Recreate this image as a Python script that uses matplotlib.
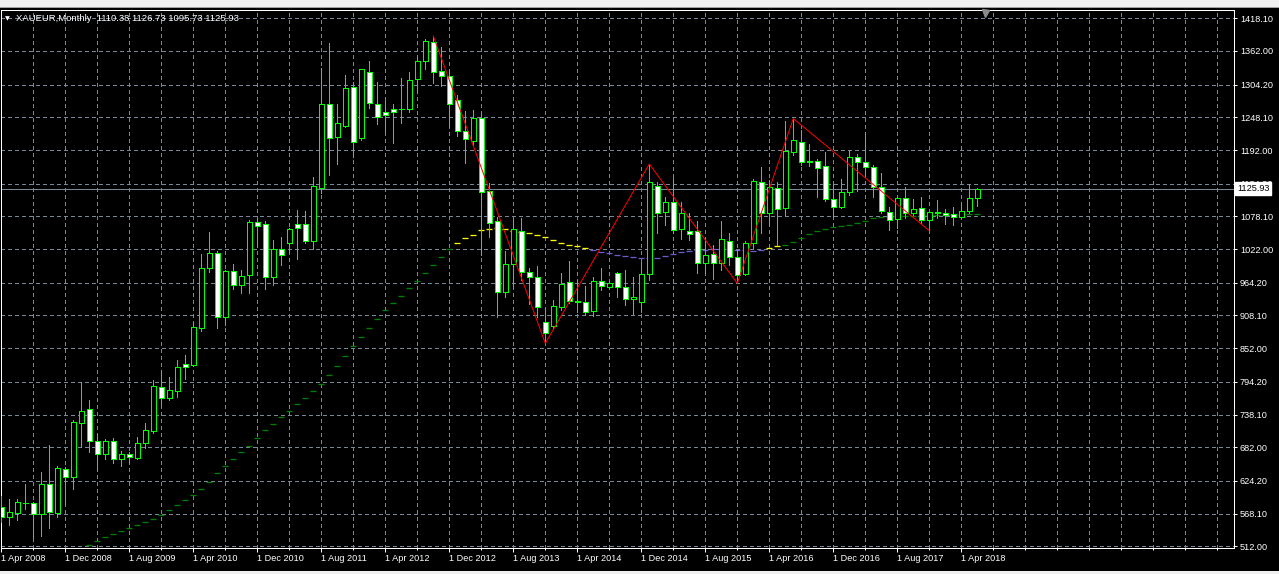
import matplotlib
matplotlib.use("Agg")
import matplotlib.pyplot as plt
from matplotlib.patches import Rectangle
from matplotlib.transforms import blended_transform_factory
import numpy as np

# ---------------- data ----------------
symbol_title = "XAUEUR,Monthly  1110.38 1126.73 1095.73 1125.93"

opens = [580.0, 561.8, 569.7, 585.8, 585.8, 566.9, 618.4, 568.6, 644.1, 631.4,
         724.1, 747.1, 692.7, 670.9, 692.7, 661.3, 669.9, 664.0, 688.7, 710.4,
         786.0, 766.0, 779.0, 824.3, 823.1, 886.1, 989.0, 1014.8, 905.0, 983.9,
         959.9, 977.0, 1068.0, 1064.6, 973.6, 1021.7, 1032.0, 1064.6, 1064.6, 1036.4,
         1127.4, 1271.6, 1213.8, 1234.0, 1299.6, 1212.1, 1325.3, 1271.6, 1256.7, 1262.7,
         1263.0, 1262.0, 1313.4, 1345.3, 1376.9, 1327.6, 1319.5, 1278.5, 1224.6, 1208.0,
         1247.5, 1121.7, 1070.0, 949.0, 996.0, 1053.6, 982.2, 973.6, 896.4, 890.5,
         922.1, 966.0, 932.5, 931.8, 916.3, 967.8, 957.5, 980.5, 956.4, 935.9,
         931.8, 978.8, 1130.8, 1085.0, 1102.3, 1056.0, 1053.0, 1053.0, 997.6, 1013.1,
         997.6, 1035.9, 1008.0, 979.0, 1032.0, 1137.7, 1083.4, 1126.3, 1092.0, 1189.1,
         1205.3, 1172.7, 1173.2, 1164.6, 1107.5, 1094.8, 1120.3, 1180.5, 1170.9, 1163.4,
         1128.0, 1086.2, 1073.2, 1109.2, 1083.4, 1092.0, 1072.0, 1084.0, 1083.4, 1081.7,
         1076.6, 1088.0, 1110.38]
highs = [598.3, 593.2, 593.2, 618.9, 588.5, 639.5, 685.3, 649.8, 647.6, 728.7,
         794.5, 763.0, 704.2, 696.1, 697.8, 676.0, 674.3, 700.0, 723.1, 797.4,
         814.5, 803.0, 831.7, 840.3, 896.4, 1013.6, 1050.8, 1018.7, 986.0, 996.4,
         986.0, 1072.0, 1074.8, 1070.2, 1037.6, 1042.8, 1058.2, 1089.1, 1087.4, 1145.2,
         1333.3, 1375.1, 1271.6, 1321.4, 1309.3, 1331.0, 1344.8, 1309.3, 1278.5, 1271.6,
         1315.0, 1325.3, 1350.0, 1382.5, 1387.5, 1368.3, 1329.0, 1286.8, 1259.0, 1260.7,
         1255.0, 1135.0, 1077.6, 1018.7, 1073.6, 1074.8, 988.8, 993.0, 920.4, 934.6,
         980.5, 1001.6, 969.0, 958.7, 974.6, 989.0, 967.8, 983.2, 986.1, 974.1,
         999.3, 1168.0, 1136.6, 1111.0, 1143.5, 1102.3, 1083.4, 1070.2, 1040.5, 1029.0,
         1070.2, 1049.1, 1020.5, 1036.4, 1141.8, 1163.4, 1140.6, 1136.6, 1242.0, 1246.0,
         1226.4, 1202.3, 1176.1, 1189.1, 1133.7, 1142.3, 1190.8, 1185.1, 1223.2, 1166.3,
         1153.1, 1093.7, 1112.0, 1128.0, 1108.0, 1111.0, 1086.2, 1106.3, 1090.3, 1093.7,
         1102.3, 1133.7, 1126.73]
lows = [554.2, 548.6, 557.1, 576.0, 528.5, 530.2, 543.9, 562.8, 584.1, 609.8,
        681.9, 674.3, 643.0, 661.8, 655.5, 649.8, 655.5, 662.3, 681.2, 707.0,
        754.5, 763.0, 768.7, 799.1, 821.9, 882.0, 983.2, 886.1, 892.3, 954.3,
        946.3, 946.3, 1026.1, 954.3, 960.7, 994.7, 1017.5, 1005.0, 1033.0, 1021.7,
        1117.7, 1149.1, 1168.6, 1232.3, 1180.0, 1209.0, 1264.6, 1236.7, 1223.4, 1203.6,
        1239.0, 1257.8, 1290.0, 1330.5, 1307.6, 1302.0, 1232.0, 1216.0, 1170.0, 1200.6,
        1011.9, 1042.2, 906.0, 940.3, 954.7, 969.0, 927.8, 905.0, 860.3, 884.4,
        917.5, 929.0, 914.6, 909.0, 907.7, 951.8, 956.4, 940.3, 926.0, 910.6,
        913.5, 969.0, 1049.0, 1063.3, 1049.1, 1038.8, 1037.6, 981.5, 981.5, 970.7,
        986.1, 994.7, 963.3, 977.6, 1023.4, 1049.1, 1063.3, 1029.0, 1079.3, 1183.0,
        1166.3, 1164.6, 1111.9, 1105.1, 1077.6, 1092.0, 1114.8, 1122.0, 1149.1, 1111.9,
        1084.5, 1054.8, 1057.7, 1074.8, 1080.5, 1066.3, 1053.6, 1074.8, 1065.1, 1063.3,
        1074.8, 1083.4, 1095.73]
closes = [562.8, 570.3, 587.5, 587.0, 566.9, 618.4, 570.3, 645.8, 631.4, 724.8,
          744.2, 693.2, 670.9, 692.7, 661.3, 670.4, 664.7, 688.7, 711.6, 787.1,
          766.0, 779.7, 820.2, 819.2, 887.8, 989.0, 1014.8, 905.0, 983.9, 959.9,
          975.3, 1068.0, 1061.6, 973.6, 1021.7, 1011.4, 1056.0, 1057.7, 1036.4, 1130.8,
          1271.0, 1212.1, 1238.7, 1298.0, 1206.3, 1330.5, 1272.2, 1249.2, 1251.6, 1256.7,
          1262.0, 1313.0, 1344.8, 1379.1, 1326.4, 1319.5, 1271.0, 1225.2, 1210.4, 1247.5,
          1119.5, 1067.3, 949.0, 996.0, 1056.0, 982.2, 973.6, 922.1, 878.5, 924.4,
          961.6, 933.4, 931.8, 914.6, 967.8, 958.7, 963.3, 956.4, 935.9, 939.3,
          978.8, 1137.7, 1083.4, 1102.3, 1054.8, 1083.4, 1047.4, 997.6, 1011.9, 997.6,
          1038.8, 1008.0, 977.6, 1032.0, 1138.9, 1083.4, 1129.1, 1090.3, 1190.3, 1209.2,
          1172.0, 1171.0, 1161.7, 1107.5, 1093.7, 1119.5, 1179.5, 1170.9, 1162.3, 1128.0,
          1087.4, 1072.0, 1109.2, 1083.4, 1090.3, 1072.0, 1085.1, 1085.0, 1080.0, 1076.6,
          1088.0, 1109.2, 1125.93]

# moving average (starts at bar 11)
ma_start = 11
ma_values = [513.7, 520.6, 528.0, 532.6, 537.7, 542.9, 548.0, 553.2, 558.3, 565.2,
             573.8, 582.4, 590.9, 599.5, 609.8, 621.8, 637.3, 649.3, 661.3, 673.3,
             683.6, 697.3, 711.1, 721.4, 733.4, 743.7, 755.7, 766.0, 778.0, 790.0,
             805.4, 822.2, 839.1, 855.7, 870.6, 886.1, 901.5, 917.0, 929.0, 941.0,
             954.7, 966.7, 980.5, 994.2, 1007.9, 1021.7, 1032.0, 1040.5, 1045.7, 1054.3,
             1056.0, 1057.7, 1056.0, 1052.5, 1051.3, 1049.1, 1045.7, 1042.2, 1037.1, 1032.0,
             1028.5, 1026.8, 1023.4, 1019.9, 1016.5, 1014.8, 1011.4, 1009.6, 1007.9, 1006.2,
             1006.2, 1006.2, 1009.6, 1013.1, 1016.5, 1018.2, 1019.9, 1019.9, 1021.7, 1021.7,
             1021.7, 1019.9, 1019.9, 1018.7, 1019.9, 1023.4, 1026.8, 1028.5, 1033.7, 1040.5,
             1047.4, 1052.5, 1056.0, 1059.4, 1061.6, 1062.8, 1066.3, 1069.7, 1074.8, 1076.6,
             1076.6, 1078.3, 1078.3, 1078.3, 1078.3, 1080.0, 1080.0, 1080.0, 1080.0, 1080.0,
             1081.7, 1081.7]

# zigzag turning points (bar index, price)
zz_bars = [54, 68, 81, 92, 99, 116]
zz_prices = [1387.5, 860.3, 1168.0, 963.3, 1246.0, 1053.6]

current_price = 1125.93

price_ticks = [512.00, 568.10, 624.20, 682.00, 738.10, 794.20, 852.00, 908.10, 964.20,
               1022.00, 1078.10, 1134.20, 1192.00, 1248.10, 1304.20, 1362.00, 1418.10]
date_labels = ["1 Apr 2008", "1 Dec 2008", "1 Aug 2009", "1 Apr 2010", "1 Dec 2010",
               "1 Aug 2011", "1 Apr 2012", "1 Dec 2012", "1 Aug 2013", "1 Apr 2014",
               "1 Dec 2014", "1 Aug 2015", "1 Apr 2016", "1 Dec 2016", "1 Aug 2017",
               "1 Apr 2018"]

# ---------------- style ----------------
W, H = 1279, 574
PX = 72.0 / 100.0          # one pixel in points
LIME = "#00FF00"
GRID = "#778899"
FONT = ["Liberation Sans", "DejaVu Sans"]
plt.rcParams["font.family"] = FONT

fig = plt.figure(figsize=(W / 100, H / 100), dpi=100, facecolor="black")
ax_left, ax_right, ax_top, ax_bottom = 1, 1234, 10, 548
ax = fig.add_axes([ax_left / W, (H - ax_bottom) / H,
                   (ax_right - ax_left) / W, (ax_bottom - ax_top) / H])
ax.set_facecolor("black")

n = len(opens)
x = np.arange(n)
o = np.array(opens); h = np.array(highs); l = np.array(lows); c = np.array(closes)

bar_px = 8.0
ax.set_xlim((ax_left - 1.3) / bar_px, (ax_right - 1.3) / bar_px)
ax.set_ylim(509.1, 1432.3)

# grid
ax.set_xticks(np.arange(0, 153, 4), minor=True)
ax.set_xticks(np.arange(0, 8 * len(date_labels), 8))
ax.set_xticklabels(date_labels, ha="left")
ax.set_yticks(price_ticks)
ax.set_yticklabels([f"{v:.2f}" for v in price_ticks])
ax.grid(which="both", color=GRID, linestyle=(0, (3, 3)), linewidth=PX, zorder=0,
        antialiased=False)
ax.set_axisbelow(True)

ax.yaxis.tick_right()
ax.tick_params(axis="y", which="both", colors="white", length=3 * PX, width=PX,
               pad=3 * PX, labelsize=6.6, labelcolor="white")
ax.tick_params(axis="x", which="major", colors="white", length=4 * PX, width=PX,
               pad=2 * PX, labelsize=6.6, labelcolor="white")
ax.tick_params(axis="x", which="minor", colors="white", length=2 * PX, width=PX)
for s in ax.spines.values():
    s.set_color("white")
    s.set_linewidth(PX)

# moving average as short dashes, coloured by segment
ma_x = np.arange(ma_start, ma_start + len(ma_values))
ma_v = np.array(ma_values)
segments = [(11, 56, "#008000"), (57, 73, "#FFFF00"), (74, 95, "#6A5ACD"),
            (96, 97, "#FFFF00"), (98, 122, "#008000")]
for a, b, col in segments:
    m = (ma_x >= a) & (ma_x <= b)
    ax.plot(ma_x[m], ma_v[m], linestyle="none", marker="_", markersize=5.5 * PX,
            markeredgewidth=1.3 * PX, color=col, zorder=2)

# current price line
ax.axhline(current_price, color=GRID, linewidth=PX, zorder=2, antialiased=False)

# candles
ax.vlines(x, l, h, color=LIME, linewidth=PX, zorder=3, antialiased=False)
bull = c >= o
body_bottom = np.minimum(o, c)
body_h = np.abs(c - o)
fills = np.where(bull, "black", "white")
ax.bar(x, body_h, bottom=body_bottom, width=0.6, color=fills, edgecolor=LIME,
       linewidth=PX, zorder=4, antialiased=False)

# zigzag
ax.plot(zz_bars, zz_prices, color="#FF0000", linewidth=PX, zorder=5)

# title
ax.text((16 - ax_left) / (ax_right - ax_left), (ax_bottom - 18.5) / (ax_bottom - ax_top),
        symbol_title, transform=ax.transAxes, color="white", fontsize=6.8,
        va="center", ha="left", zorder=6)
ax.text((5 - ax_left) / (ax_right - ax_left), (ax_bottom - 18.5) / (ax_bottom - ax_top),
        "\u25BC", transform=ax.transAxes, color="white", fontsize=4.5,
        va="center", ha="left", family=["DejaVu Sans"], zorder=6)

# chart shift marker
ax.plot([(985 - ax_left) / (ax_right - ax_left)], [(ax_bottom - 12.5) / (ax_bottom - ax_top)],
        marker="v", markersize=7 * PX, color="#8a8a8a", transform=ax.transAxes,
        clip_on=False, zorder=6)

# current price box on the axis
tr = blended_transform_factory(ax.transAxes, ax.transData)
ax.text(1.0 + 3 / (ax_right - ax_left), current_price, f"{current_price:.2f}",
        transform=tr, color="black", fontsize=6.6, ha="left", va="center",
        bbox=dict(facecolor="white", edgecolor="white", boxstyle="square,pad=0.2"),
        clip_on=False, zorder=10)

# window chrome: toolbar strip at top, tab strip at bottom
fig.patches.append(Rectangle((0, 1 - 7 / H), 1, 7 / H, transform=fig.transFigure,
                             facecolor="#f0f0f0", edgecolor="none", zorder=0))
fig.patches.append(Rectangle((0, 1 - 8 / H), 1, 1 / H, transform=fig.transFigure,
                             facecolor="#a0a0a0", edgecolor="none", zorder=0))
fig.patches.append(Rectangle((0, 0), 1, 3 / H, transform=fig.transFigure,
                             facecolor="#f0f0f0", edgecolor="none", zorder=0))

fig.savefig("out.png", dpi=100, facecolor="black")
